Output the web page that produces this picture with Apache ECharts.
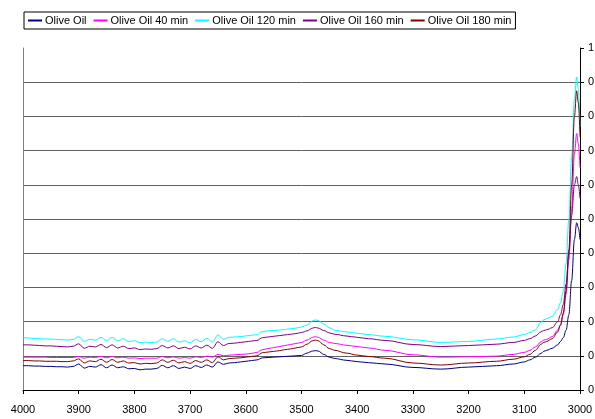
<!DOCTYPE html>
<html>
<head>
<meta charset="utf-8">
<script src="https://cdn.jsdelivr.net/npm/echarts@6/dist/echarts.min.js"></script>
<style>
  html, body { margin: 0; padding: 0; background: #fff; }
  #chart { width: 595px; height: 419px; }
</style>
</head>
<body>
<div id="chart"></div>
<script>
// Wavenumbers (cm-1), shared by every spectrum
const wavenumbers = [
  4000, 3990, 3980, 3970, 3960, 3950, 3940, 3930, 3920, 3910,
  3900, 3890, 3880, 3870, 3860, 3850, 3840, 3830, 3820, 3810,
  3800, 3790, 3780, 3770, 3760, 3750, 3740, 3730, 3720, 3710,
  3700, 3690, 3680, 3670, 3660, 3650, 3640, 3630, 3620, 3610,
  3600, 3590, 3580, 3570, 3560, 3550, 3540, 3530, 3520, 3510,
  3500, 3490, 3480, 3475, 3470, 3460, 3450, 3440, 3420, 3400,
  3380, 3350, 3300, 3250, 3200, 3150, 3120, 3100, 3090, 3080,
  3070, 3065, 3060, 3050, 3040, 3035, 3030, 3025, 3020, 3015,
  3010, 3006, 3003, 3000
];

const seriesNames = ['Olive Oil', 'Olive Oil 40 min', 'Olive Oil 120 min', 'Olive Oil 160 min', 'Olive Oil 180 min'];
const seriesColors = ['#000080', '#FF00FF', '#00FFFF', '#800080', '#800000'];

const oliveOil = [
  0.071, 0.071, 0.070, 0.070, 0.069, 0.069, 0.068, 0.068, 0.067, 0.069,
  0.076, 0.064, 0.069, 0.067, 0.074, 0.065, 0.073, 0.065, 0.068, 0.062,
  0.063, 0.059, 0.061, 0.061, 0.063, 0.072, 0.065, 0.071, 0.063, 0.067,
  0.063, 0.071, 0.066, 0.073, 0.067, 0.082, 0.075, 0.079, 0.080, 0.082,
  0.084, 0.086, 0.088, 0.094, 0.095, 0.096, 0.097, 0.098, 0.099, 0.100,
  0.101, 0.108, 0.114, 0.115, 0.114, 0.104, 0.096, 0.092, 0.087, 0.083,
  0.080, 0.076, 0.066, 0.061, 0.067, 0.071, 0.076, 0.082, 0.088, 0.096,
  0.107, 0.113, 0.116, 0.122, 0.132, 0.142, 0.153, 0.175, 0.220, 0.320,
  0.440, 0.489, 0.475, 0.440
];

const oliveOil40 = [
  0.096, 0.096, 0.096, 0.096, 0.096, 0.095, 0.095, 0.095, 0.095, 0.095,
  0.098, 0.093, 0.096, 0.095, 0.098, 0.094, 0.098, 0.094, 0.096, 0.093,
  0.094, 0.092, 0.093, 0.093, 0.093, 0.098, 0.094, 0.097, 0.093, 0.095,
  0.093, 0.097, 0.095, 0.099, 0.096, 0.104, 0.100, 0.102, 0.103, 0.104,
  0.105, 0.107, 0.110, 0.118, 0.121, 0.124, 0.127, 0.130, 0.133, 0.136,
  0.139, 0.146, 0.154, 0.156, 0.154, 0.146, 0.139, 0.136, 0.131, 0.127,
  0.123, 0.116, 0.103, 0.096, 0.097, 0.099, 0.104, 0.110, 0.116, 0.126,
  0.141, 0.146, 0.148, 0.156, 0.175, 0.190, 0.220, 0.280, 0.380, 0.530,
  0.690, 0.750, 0.720, 0.650
];

const oliveOil120 = [
  0.153, 0.152, 0.151, 0.150, 0.149, 0.149, 0.148, 0.147, 0.146, 0.148,
  0.156, 0.142, 0.148, 0.146, 0.154, 0.144, 0.154, 0.144, 0.150, 0.142,
  0.144, 0.138, 0.140, 0.139, 0.140, 0.150, 0.142, 0.150, 0.140, 0.144,
  0.138, 0.148, 0.141, 0.151, 0.140, 0.161, 0.148, 0.154, 0.155, 0.156,
  0.158, 0.160, 0.162, 0.171, 0.173, 0.174, 0.175, 0.177, 0.179, 0.181,
  0.184, 0.190, 0.202, 0.205, 0.203, 0.193, 0.182, 0.175, 0.170, 0.166,
  0.162, 0.157, 0.147, 0.139, 0.142, 0.149, 0.155, 0.162, 0.168, 0.176,
  0.198, 0.205, 0.209, 0.215, 0.236, 0.255, 0.290, 0.370, 0.500, 0.680,
  0.850, 0.915, 0.880, 0.770
];

const oliveOil160 = [
  0.132, 0.132, 0.131, 0.130, 0.129, 0.129, 0.128, 0.127, 0.126, 0.128,
  0.135, 0.122, 0.128, 0.126, 0.133, 0.124, 0.132, 0.123, 0.128, 0.121,
  0.123, 0.118, 0.120, 0.119, 0.121, 0.130, 0.123, 0.129, 0.121, 0.125,
  0.120, 0.129, 0.123, 0.131, 0.122, 0.141, 0.130, 0.136, 0.137, 0.139,
  0.141, 0.143, 0.145, 0.153, 0.155, 0.157, 0.159, 0.161, 0.163, 0.165,
  0.168, 0.173, 0.181, 0.183, 0.181, 0.174, 0.167, 0.163, 0.158, 0.154,
  0.150, 0.145, 0.133, 0.127, 0.130, 0.134, 0.139, 0.145, 0.150, 0.158,
  0.170, 0.174, 0.176, 0.182, 0.200, 0.220, 0.250, 0.310, 0.400, 0.510,
  0.600, 0.624, 0.600, 0.560
];

const oliveOil180 = [
  0.086, 0.086, 0.085, 0.085, 0.084, 0.084, 0.084, 0.083, 0.083, 0.085,
  0.091, 0.079, 0.085, 0.083, 0.090, 0.081, 0.089, 0.081, 0.085, 0.079,
  0.080, 0.076, 0.078, 0.077, 0.079, 0.088, 0.081, 0.087, 0.079, 0.083,
  0.078, 0.086, 0.081, 0.088, 0.080, 0.097, 0.088, 0.092, 0.093, 0.094,
  0.096, 0.098, 0.100, 0.109, 0.111, 0.113, 0.115, 0.118, 0.120, 0.123,
  0.126, 0.134, 0.144, 0.146, 0.144, 0.132, 0.121, 0.116, 0.108, 0.102,
  0.098, 0.093, 0.079, 0.073, 0.079, 0.084, 0.090, 0.097, 0.104, 0.116,
  0.134, 0.139, 0.142, 0.150, 0.170, 0.190, 0.225, 0.290, 0.410, 0.600,
  0.800, 0.875, 0.840, 0.740
];

const seriesValues = [oliveOil, oliveOil40, oliveOil120, oliveOil160, oliveOil180];

const FONT = 'Liberation Sans, Arial, sans-serif';

const chart = echarts.init(document.getElementById('chart'), null, { renderer: 'canvas' });

chart.setOption({
  animation: false,
  backgroundColor: '#ffffff',
  textStyle: { fontFamily: FONT },
  legend: {
    left: 24,
    top: 12,
    orient: 'horizontal',
    borderColor: '#000000',
    borderWidth: 1,
    padding: [3, 4, 3, 4],
    itemGap: 7,
    itemWidth: 14,
    itemHeight: 2,
    icon: 'rect',
    textStyle: { fontFamily: FONT, fontSize: 11, color: '#000000', padding: [0, 0, 0, -2] },
    data: seriesNames.map((n, i) => ({ name: n, itemStyle: { color: seriesColors[i] } }))
  },
  grid: { left: 23, right: 15, top: 48, bottom: 29, containLabel: false, outerBoundsMode: 'none' },
  xAxis: {
    type: 'value',
    min: 3000,
    max: 4000,
    interval: 100,
    inverse: true,
    axisLine: { show: true, onZero: false, lineStyle: { color: '#000000', width: 1 } },
    axisTick: { show: true, length: 4, lineStyle: { color: '#000000' } },
    axisLabel: { color: '#000000', fontSize: 11, fontFamily: FONT, margin: 14, formatter: v => String(v) },
    splitLine: { show: false }
  },
  yAxis: [
    {
      type: 'value',
      position: 'right',
      min: 0,
      max: 1,
      interval: 0.1,
      axisLine: { show: true, lineStyle: { color: '#000000', width: 1 } },
      axisTick: { show: true, length: 4, lineStyle: { color: '#000000' } },
      axisLabel: { color: '#000000', fontSize: 11, fontFamily: FONT, margin: 8, formatter: v => String(Math.round(v * 10) / 10) },
      splitLine: { show: true, showMaxLine: false, lineStyle: { color: '#606060', width: 1 } }
    },
    {
      type: 'value',
      position: 'left',
      min: 0,
      max: 1,
      axisLine: { show: true, lineStyle: { color: '#808080', width: 1 } },
      axisTick: { show: false },
      axisLabel: { show: false },
      splitLine: { show: false }
    }
  ],
  series: seriesNames.map((name, i) => ({
    name: name,
    type: 'line',
    yAxisIndex: 0,
    showSymbol: false,
    symbol: 'none',
    smooth: 0.35,
    smoothMonotone: 'x',
    color: seriesColors[i],
    lineStyle: { color: seriesColors[i], width: 1 },
    data: wavenumbers.map((w, k) => [w, seriesValues[i][k]])
  }))
});
</script>
</body>
</html>
